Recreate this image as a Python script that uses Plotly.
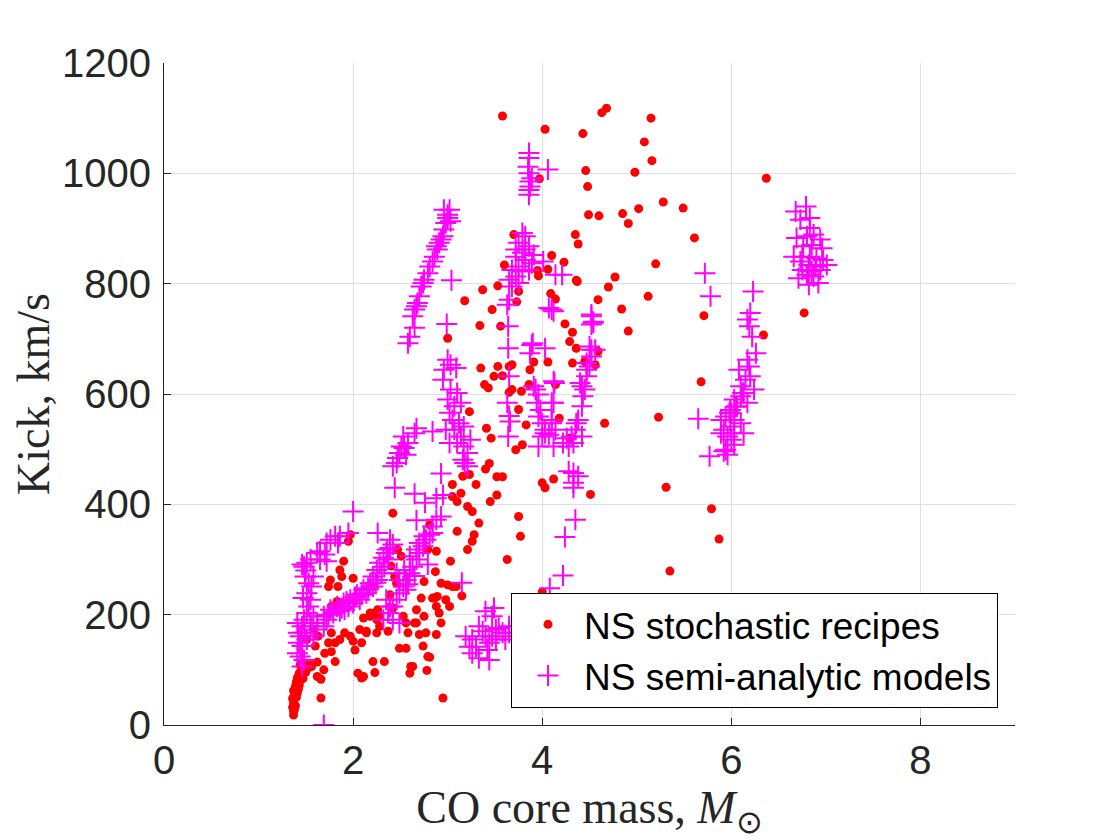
import plotly.graph_objects as go

# NS stochastic recipes (CO core mass [Msun], kick [km/s])
stoch_mass = [
    1.37, 1.37, 1.36, 1.37, 1.36, 1.38, 1.37, 1.39, 1.40, 1.41,
    1.43, 1.45, 1.48, 1.51, 1.39, 1.40, 1.42, 1.44, 1.46, 1.38,
    1.41, 1.43, 1.47, 1.50, 1.53, 1.55, 1.66, 1.66, 1.44, 1.56,
    1.62, 1.69, 1.62, 1.70, 1.77, 1.81, 1.74, 1.81, 1.77, 1.86,
    1.91, 1.97, 2.07, 2.00, 2.02, 2.09, 2.14, 2.21, 2.33, 2.23,
    2.05, 2.09, 2.11, 2.18, 2.25, 2.28, 2.23, 2.37, 2.49, 2.56,
    2.60, 2.63, 2.58, 2.67, 2.75, 2.70, 2.77, 2.88, 2.74, 2.79,
    2.78, 2.95, 2.67, 2.72, 2.88, 2.91, 2.93, 2.89, 2.98, 2.84,
    2.93, 3.05, 3.15, 3.02, 1.90, 1.86, 1.88, 1.76, 1.74, 1.84,
    2.00, 1.83, 1.77, 1.97, 1.95, 2.42, 2.81, 3.10, 3.28, 3.26,
    3.21, 2.79, 2.88, 3.03, 2.87, 2.75, 3.63, 3.33, 3.26, 3.21,
    3.45, 3.52, 3.14, 3.05, 3.10, 3.05, 3.30, 3.75, 3.77, 2.47,
    2.51, 2.40, 2.44, 2.39, 2.21, 2.46, 1.58, 1.63, 1.51, 1.60,
    2.18, 2.28, 3.16, 3.23, 3.52, 3.58, 4.00, 4.03, 4.12, 4.51,
    4.00, 3.89, 3.00, 3.09, 2.86, 2.65, 2.56, 2.81, 2.61, 2.25,
    2.14, 2.11, 2.26, 2.53, 2.42, 4.49, 4.60, 4.85, 4.91, 4.35,
    4.38, 4.10, 4.23, 3.95, 3.96, 4.06, 4.36, 4.77, 4.70, 4.59,
    4.84, 4.91, 3.70, 3.60, 3.37, 3.53, 3.75, 3.73, 4.09, 4.14,
    3.18, 3.47, 3.34, 3.56, 3.00, 4.24, 4.32, 4.29, 4.36, 4.32,
    4.45, 4.56, 4.59, 4.06, 3.91, 3.87, 3.68, 3.65, 3.53, 3.35,
    3.49, 3.58, 3.39, 3.43, 3.86, 3.78, 3.68, 3.65, 3.75, 4.14,
    3.83, 4.18, 4.66, 3.41, 3.46, 3.72, 3.79, 3.23, 3.40, 3.44,
    4.29, 3.58, 4.03, 4.63, 4.68, 5.15, 4.43, 5.08, 5.16, 4.46,
    4.48, 4.98, 3.97, 5.02, 5.28, 5.49, 5.61, 5.20, 5.12, 4.37,
    5.71, 6.34, 5.68, 5.23, 5.31, 5.79, 5.87, 5.35, 6.37, 6.77,
]
stoch_kick = [
    18, 25, 32, 40, 48, 55, 62, 70, 78, 86,
    94, 100, 106, 112, 35, 50, 65, 80, 90, 28,
    58, 72, 84, 96, 104, 110, 83, 49, 109, 106,
    114, 100, 88, 130, 133, 115, 149, 149, 167, 155,
    167, 161, 173, 152, 136, 149, 167, 115, 115, 95,
    94, 85, 194, 197, 191, 179, 203, 170, 139, 139,
    94, 106, 167, 185, 197, 164, 167, 164, 143, 124,
    99, 49, 209, 230, 215, 203, 185, 233, 227, 230,
    257, 251, 234, 215, 297, 281, 269, 263, 251, 251,
    266, 224, 215, 345, 333, 384, 363, 351, 345, 333,
    318, 318, 315, 297, 278, 260, 300, 366, 387, 396,
    405, 417, 420, 414, 405, 436, 436, 378, 342, 318,
    306, 288, 269, 236, 251, 257, 173, 161, 155, 143,
    203, 197, 451, 454, 450, 450, 439, 430, 446, 418,
    241, 213, 254, 251, 230, 185, 185, 123, 106, 167,
    170, 88, 209, 197, 212, 925, 923, 927, 909, 889,
    872, 851, 839, 824, 814, 826, 806, 812, 794, 771,
    754, 714, 889, 834, 789, 796, 786, 767, 782, 772,
    769, 753, 724, 723, 701, 727, 712, 695, 683, 656,
    659, 653, 677, 658, 658, 644, 653, 650, 650, 647,
    632, 633, 617, 611, 617, 605, 608, 603, 572, 617,
    544, 556, 547, 538, 520, 499, 508, 568, 464, 474,
    520, 1104, 1080, 1110, 1118, 1100, 1072, 1057, 1023, 1005,
    976, 1002, 990, 936, 948, 937, 883, 836, 777, 804,
    742, 707, 622, 558, 431, 392, 337, 279, 991, 747,
]

# NS semi-analytic models
semi_mass = [
    1.51, 1.55, 1.48, 1.49, 1.53, 1.51, 1.55, 1.53, 1.48, 1.46,
    1.44, 1.46, 1.44, 1.46, 1.42, 1.49, 1.56, 1.58, 1.62, 1.65,
    1.70, 1.72, 1.76, 1.81, 1.84, 1.86, 1.65, 1.72, 1.46, 1.58,
    1.51, 1.55, 1.41, 1.42, 1.41, 1.48, 1.51, 1.55, 1.47, 1.50,
    1.62, 1.69, 1.76, 1.83, 1.90, 1.97, 2.04, 2.11, 2.18, 2.21,
    2.25, 2.28, 2.32, 2.35, 2.39, 2.42, 1.62, 1.72, 1.86, 2.00,
    2.14, 2.26, 2.33, 1.91, 2.07, 2.21, 1.79, 1.95, 1.69, 1.58,
    2.37, 2.30, 2.16, 2.02, 1.88, 1.74, 2.24, 2.09, 1.93, 2.36,
    2.32, 2.37, 2.42, 2.46, 2.49, 2.53, 2.56, 2.60, 2.63, 2.67,
    2.70, 2.74, 2.77, 2.81, 2.60, 2.67, 2.42, 2.49, 2.35, 2.39,
    2.56, 2.49, 2.54, 2.70, 2.75, 2.84, 2.46, 2.79, 2.58, 2.65,
    2.44, 2.65, 2.76, 2.67, 2.00, 2.26, 2.39, 1.95, 3.15, 1.69,
    2.88, 2.95, 2.93, 2.88, 2.84,
    3.40, 3.47, 3.19, 3.26, 3.33, 3.44, 3.30, 3.40, 3.51, 3.58,
    3.65, 3.61, 3.44, 3.37, 3.47, 3.54, 3.33, 3.26, 3.23, 3.65,
    3.68, 3.42, 3.51, 3.49,
    3.02, 3.00, 2.98, 2.96, 2.95, 2.91, 2.89, 2.86, 2.84, 2.81,
    2.79, 2.75, 2.72, 2.70, 2.68, 2.65, 2.63, 2.65, 2.60, 2.58,
    3.03, 2.88, 2.74, 2.67, 3.00, 2.93, 2.96,
    3.04, 2.99, 3.64, 3.64, 3.89, 4.03, 3.87, 4.13, 3.63, 3.66,
    3.64, 3.96, 4.12, 2.93, 4.01, 4.14, 4.21, 4.07, 4.12, 4.52,
    4.54, 4.52,
    3.79, 3.82, 3.75, 3.86, 3.79, 3.72, 3.82, 3.89, 3.75, 3.68,
    3.79, 3.72, 3.65, 3.75, 3.68, 3.65, 3.63, 3.91, 3.86, 3.72,
    3.82,
    3.00, 3.03, 2.96, 3.09, 2.95, 3.03, 3.10, 3.00, 3.07, 3.14,
    3.02, 3.05, 3.12, 3.17, 3.07, 3.14, 3.10, 3.17, 3.21, 3.16,
    3.21, 3.24, 2.98, 3.02, 3.18,
    2.67, 2.65, 2.53, 2.58, 2.54, 2.56, 2.49, 2.47, 2.46, 2.42,
    2.51, 2.84,
    3.93, 3.96, 3.94, 3.98, 3.96, 4.00, 4.03, 4.07, 4.10, 4.12,
    4.00, 4.14, 4.22, 4.28, 4.31, 4.35, 4.38, 4.42, 4.43, 4.45,
    4.42, 4.47, 4.50, 4.52, 4.50, 4.56, 4.47, 4.40, 4.36, 4.26,
    4.33, 4.28, 4.33, 4.38, 4.33, 3.91, 4.10, 4.42, 4.52, 4.54,
    4.52, 4.47, 4.33, 4.35, 4.24, 4.22, 4.08, 4.07, 4.10, 4.03,
    3.90, 4.10, 3.65, 3.65, 4.12,
    3.86, 3.86, 3.86, 3.87, 3.87, 3.86, 3.86, 4.06, 3.89, 3.85,
    5.72, 5.78, 6.23, 5.65,
    6.20, 6.17, 6.19, 6.22, 6.26, 6.17, 6.19, 6.08, 6.20, 6.24,
    6.13, 6.10, 6.03, 6.17, 6.06, 5.99, 5.94, 6.03, 6.10, 5.99,
    5.92, 6.03, 6.13, 5.96, 6.03, 5.92, 5.96, 5.77, 5.89, 5.98,
    6.10, 6.15, 6.00, 5.89, 6.00, 5.94, 6.05, 6.12,
    6.68, 6.79, 6.73, 6.83, 6.83, 6.69, 6.80, 6.87, 6.94, 6.96,
    6.76, 6.85, 6.66, 6.75, 6.83, 6.90, 6.97, 7.01, 6.73, 6.82,
    6.89, 6.94, 6.71, 6.80, 6.87, 6.82, 6.92, 6.75, 6.85,
]
semi_kick = [
    294, 300, 287, 269, 257, 239, 227, 215, 191, 179,
    161, 143, 124, 106, 149, 167, 251, 269, 312, 315,
    309, 330, 336, 342, 330, 342, 300, 297, 291, 197,
    203, 179, 185, 167, 130, 118, 155, 185, 230, 280,
    185, 197, 209, 215, 221, 227, 236, 245, 257, 269,
    281, 294, 303, 312, 321, 327, 173, 191, 206, 221,
    239, 263, 287, 209, 227, 251, 203, 215, 179, 161,
    300, 275, 248, 232, 212, 200, 258, 236, 224, 318,
    191, 203, 215, 227, 239, 251, 263, 275, 287, 300,
    312, 324, 336, 345, 306, 318, 191, 185, 227, 215,
    245, 263, 281, 330, 342, 348, 275, 291, 255, 270,
    430, 419, 403, 371, 387, 348, 336, 348, 258, 0,
    411, 417, 378, 372, 360,
    206, 197, 161, 130, 121, 118, 142, 161, 173, 167,
    167, 155, 149, 170, 161, 176, 179, 155, 142, 179,
    161, 136, 155, 212,
    934, 925, 910, 898, 886, 874, 862, 849, 840, 831,
    819, 807, 795, 777, 765, 753, 741, 720, 704, 692,
    913, 868, 801, 759, 919, 880, 934,
    806, 727, 723, 683, 689, 683, 674, 620, 584, 550,
    523, 505, 505, 456, 840, 816, 816, 756, 750, 744,
    731, 726,
    892, 886, 874, 868, 856, 849, 843, 837, 831, 825,
    822, 813, 807, 801, 795, 771, 762, 852, 825, 862,
    862,
    662, 653, 644, 647, 626, 608, 602, 590, 578, 584,
    566, 553, 547, 541, 535, 523, 511, 505, 493, 481,
    469, 517, 535, 511, 475,
    538, 529, 523, 511, 502, 490, 493, 484, 475, 469,
    505, 532,
    608, 599, 584, 571, 559, 547, 535, 526, 553, 584,
    523, 535, 511, 505, 523, 535, 553, 578, 596, 608,
    614, 632, 650, 668, 686, 680, 656, 620, 547, 520,
    511, 460, 457, 451, 439, 614, 547, 523, 741, 729,
    680, 644, 430, 372, 341, 271, 248, 212, 584, 529,
    692, 753, 632, 560, 623,
    1037, 1028, 1000, 985, 976, 970, 961, 1007, 991, 1012,
    819, 777, 786, 555,
    747, 735, 723, 704, 674, 662, 650, 644, 632, 608,
    602, 596, 590, 584, 578, 571, 559, 553, 547, 541,
    535, 529, 529, 523, 508, 496, 490, 487, 553, 566,
    614, 626, 565, 529, 517, 499, 577, 602,
    931, 940, 916, 919, 901, 883, 886, 889, 880, 864,
    868, 870, 849, 849, 849, 846, 843, 834, 840, 834,
    831, 825, 810, 816, 813, 798, 801, 825, 822,
]

x_ticks = [0, 2, 4, 6, 8]
y_ticks = [0, 200, 400, 600, 800, 1000, 1200]

axis_col = "#262626"
grid_col = "#dfdfdf"

fig = go.Figure()
fig.add_trace(go.Scatter(
    x=stoch_mass, y=stoch_kick, mode="markers", name="NS stochastic recipes",
    marker=dict(symbol="circle", size=9, color="#ff0000", line=dict(width=0)),
))
fig.add_trace(go.Scatter(
    x=semi_mass, y=semi_kick, mode="markers", name="NS semi-analytic models",
    marker=dict(symbol="cross-thin", size=15, color="#ff00ff",
                line=dict(width=2, color="#ff00ff")),
))

# page body adds an 8 px offset, so the figure is drawn 8 px smaller
fig.update_layout(
    width=1112, height=832,
    margin=dict(l=152, r=105, t=55, b=115),
    paper_bgcolor="white", plot_bgcolor="white",
    font=dict(family="Liberation Sans", color=axis_col),
    legend=dict(
        x=0.98, y=0.026, xanchor="right", yanchor="bottom",
        bgcolor="white", bordercolor="black", borderwidth=1,
        font=dict(family="Liberation Sans", size=37, color="black"),
        itemwidth=62, tracegroupgap=0,
    ),
    xaxis=dict(
        range=[0, 9], tickvals=x_ticks, showgrid=True, gridcolor=grid_col,
        zeroline=False, showline=True, linecolor=axis_col, linewidth=1,
        ticks="inside", ticklen=7, tickcolor=axis_col,
        tickfont=dict(size=40, color=axis_col),
        title=dict(text="CO core mass, <i>M</i><sub>⊙</sub>",
                   font=dict(family="Liberation Serif", size=46, color=axis_col),
                   standoff=0),
    ),
    yaxis=dict(
        range=[0, 1200], tickvals=y_ticks, showgrid=True, gridcolor=grid_col,
        zeroline=False, showline=True, linecolor=axis_col, linewidth=1,
        ticks="inside", ticklen=7, tickcolor=axis_col,
        tickfont=dict(size=40, color=axis_col), ticklabelstandoff=4,
        title=dict(text="Kick, km/s",
                   font=dict(family="Liberation Serif", size=46, color=axis_col),
                   standoff=10),
    ),
)

fig.write_html("out.html")
